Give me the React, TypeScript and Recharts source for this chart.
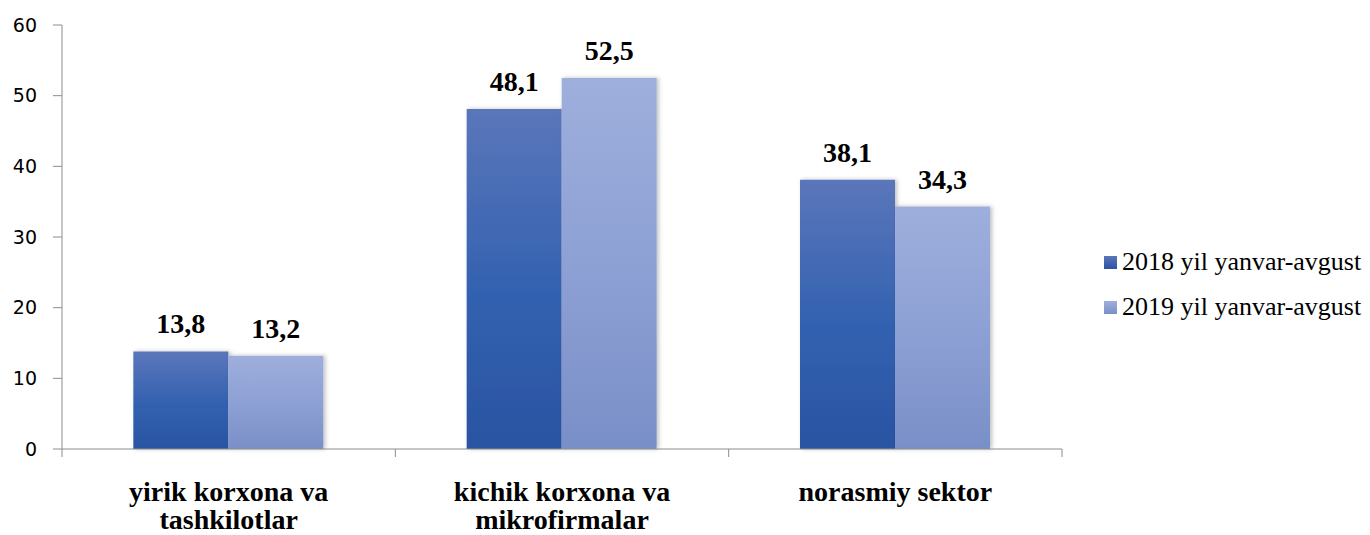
import React from "react";
import { BarChart, Bar, XAxis, YAxis, LabelList } from "recharts";

const categories = [
  ["yirik korxona va", "tashkilotlar"],
  ["kichik korxona va", "mikrofirmalar"],
  ["norasmiy sektor"],
];
const values2018 = [13.8, 48.1, 38.1];
const values2019 = [13.2, 52.5, 34.3];
const seriesNames = ["2018 yil yanvar-avgust", "2019 yil yanvar-avgust"];
const yTicks = [0, 10, 20, 30, 40, 50, 60];

const data = categories.map((c, i) => ({
  name: c.join(" "),
  s2018: values2018[i],
  s2019: values2019[i],
}));

const PLOT_LEFT = 62;
const PLOT_RIGHT = 1062;
const BAND = (PLOT_RIGHT - PLOT_LEFT) / categories.length;
const AXIS_COLOR = "#8c8c8c";
const SERIF = "Liberation Serif";

const CategoryTick = (props: any) => {
  const { x, y, payload, index } = props;
  const axisY = y - 8;
  const lines: string[] = categories[index] || [payload.value];
  return (
    <g>
      <line x1={x - BAND / 2} x2={x - BAND / 2} y1={axisY} y2={axisY + 8} stroke={AXIS_COLOR} />
      {index === categories.length - 1 && (
        <line x1={x + BAND / 2} x2={x + BAND / 2} y1={axisY} y2={axisY + 8} stroke={AXIS_COLOR} />
      )}
      {lines.map((l, i) => (
        <text
          key={i}
          x={x}
          y={axisY + 52 + i * 28}
          textAnchor="middle"
          fontFamily={SERIF}
          fontWeight="bold"
          fontSize={28}
          fill="#000"
        >
          {l}
        </text>
      ))}
    </g>
  );
};

const fmt = (v: any) => String(v).replace(".", ",");
const labelStyle = { fontFamily: SERIF, fontWeight: "bold", fontSize: 28, fill: "#000" };

export default function App() {
  return (
    <div style={{ position: "absolute", left: 0, top: 0, width: 1370, height: 535, background: "#fff", overflow: "hidden" }}>
      <BarChart
        width={1370}
        height={535}
        data={data}
        margin={{ top: 25, right: 1370 - PLOT_RIGHT, left: 0, bottom: 56 }}
        barCategoryGap="21.4%"
        barGap={0}
      >
        <defs>
          <linearGradient id="g2018" x1="0" y1="0" x2="0" y2="1">
            <stop offset="0%" stopColor="#5b76ba" />
            <stop offset="55%" stopColor="#3261b0" />
            <stop offset="100%" stopColor="#2a54a2" />
          </linearGradient>
          <linearGradient id="g2019" x1="0" y1="0" x2="0" y2="1">
            <stop offset="0%" stopColor="#9eafdc" />
            <stop offset="55%" stopColor="#8c9fd4" />
            <stop offset="100%" stopColor="#798fc7" />
          </linearGradient>
          <filter id="shadow" x="-10%" y="-10%" width="120%" height="120%">
            <feDropShadow dx="2" dy="0" stdDeviation="2" floodColor="#000" floodOpacity="0.25" />
          </filter>
        </defs>
        <YAxis
          width={PLOT_LEFT}
          domain={[0, 60]}
          ticks={yTicks}
          interval={0}
          stroke={AXIS_COLOR}
          tickSize={9}
          tickMargin={16}
          tick={{ fill: "#000", fontSize: 19, fontFamily: "DejaVu Sans" }}
        />
        <XAxis
          dataKey="name"
          stroke={AXIS_COLOR}
          tickLine={false}
          height={30}
          interval={0}
          tick={<CategoryTick />}
        />
        <Bar dataKey="s2018" name={seriesNames[0]} fill="url(#g2018)" isAnimationActive={false} style={{ filter: "url(#shadow)" }}>
          <LabelList dataKey="s2018" position="top" offset={18} formatter={fmt} style={labelStyle} />
        </Bar>
        <Bar dataKey="s2019" name={seriesNames[1]} fill="url(#g2019)" isAnimationActive={false} style={{ filter: "url(#shadow)" }}>
          <LabelList dataKey="s2019" position="top" offset={18} formatter={fmt} style={labelStyle} />
        </Bar>
      </BarChart>
      <div style={{ position: "absolute", left: 1104, top: 245, fontFamily: SERIF, fontSize: 26, color: "#000" }}>
        {seriesNames.map((n, i) => (
          <div key={n} style={{ display: "flex", alignItems: "center", height: 34, marginBottom: 11, whiteSpace: "nowrap" }}>
            <span
              style={{
                display: "inline-block",
                width: 13,
                height: 13,
                marginRight: 5,
                flexShrink: 0,
                background: i === 0 ? "linear-gradient(#5b76ba, #2a54a2)" : "linear-gradient(#9eafdc, #798fc7)",
              }}
            />
            {n}
          </div>
        ))}
      </div>
    </div>
  );
}
